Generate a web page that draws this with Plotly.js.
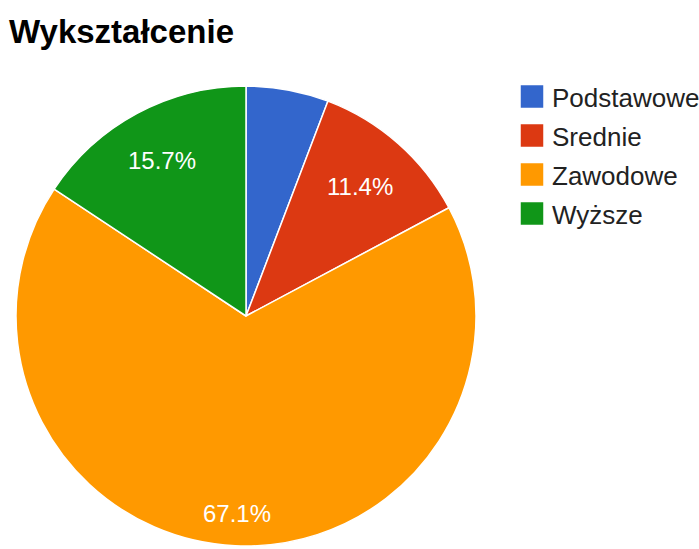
<!DOCTYPE html>
<html>
<head>
<meta charset="utf-8">
<script src="https://cdn.plot.ly/plotly-3.0.1.min.js"></script>
<style>
html,body{margin:0;padding:0;background:#fff;overflow:hidden;}
#chart{width:699px;height:549px;}
</style>
</head>
<body>
<div id="chart"></div>
<script>
const categories = ['Podstawowe', 'Srednie', 'Zawodowe', 'Wyższe'];
const values = [5.8, 11.4, 67.1, 15.7];
const colors = ['#3366cc', '#dc3912', '#ff9900', '#109618'];
const labelMin = 8;                         // slices below this % carry no label
const labelRadius = [0.75, 0.75, 0.86, 0.77]; // radial placement of each label (fraction of radius)

const W = 699, H = 549;
const cx = 246, cy = 316, R = 230;         // pie centre and radius, px

const texts = values.map(v => v >= labelMin ? v.toFixed(1) + '%' : '');

const trace = {
  type: 'pie',
  labels: categories,
  values: values,
  textinfo: 'none',
  sort: false,
  direction: 'clockwise',
  rotation: 0,
  marker: {colors: colors, line: {color: '#ffffff', width: 1.5}},
  domain: {x: [(cx - R)/W, (cx + R)/W], y: [(H - cy - R)/H, (H - cy + R)/H]},
  hoverinfo: 'label+percent'
};

// label annotations placed on each slice's bisector
const total = values.reduce((a, b) => a + b, 0);
const annotations = [];
let cum = 0;
values.forEach((v, i) => {
  const mid = (cum + v / 2) / total * 2 * Math.PI;
  cum += v;
  if (!texts[i]) return;
  const r = R * labelRadius[i];
  annotations.push({
    text: texts[i],
    x: (cx + r * Math.sin(mid)) / W,
    y: (H - (cy - r * Math.cos(mid))) / H,
    xref: 'paper', yref: 'paper',
    xanchor: 'center', yanchor: 'middle',
    showarrow: false,
    font: {family: 'Liberation Sans, Arial, sans-serif', size: 24, color: '#ffffff'}
  });
});

const layout = {
  width: W,
  height: H,
  margin: {l: 0, r: 0, t: 0, b: 0, autoexpand: false},
  paper_bgcolor: '#ffffff',
  title: {
    text: '<b>Wykształcenie</b>',
    x: 9/W, xanchor: 'left', xref: 'paper',
    y: 1 - 31/H, yanchor: 'middle', yref: 'paper',
    font: {family: 'Liberation Sans, Arial, sans-serif', size: 33, color: '#000000'}
  },
  annotations: annotations,
  showlegend: true,
  legend: {
    x: 512/W, xanchor: 'left',
    y: 1 - 73/H, yanchor: 'top',
    font: {family: 'Liberation Sans, Arial, sans-serif', size: 26, color: '#222222'},
    bgcolor: 'rgba(0,0,0,0)',
    traceorder: 'normal'
  }
};

Plotly.newPlot('chart', [trace], layout, {displayModeBar: false, staticPlot: true}).then(gd => {
  gd.querySelectorAll('.legend .legendpoints path').forEach(p => {
    p.setAttribute('d', 'M12,12H-12V-12H12Z');
  });
  const items = gd.querySelectorAll('.legend .traces');
  if (items.length) {
    const m = /translate\(\s*([-\d.]+)[ ,]+([-\d.]+)/.exec(items[0].getAttribute('transform') || '');
    if (m) {
      const x0 = parseFloat(m[1]), y0 = parseFloat(m[2]);
      items.forEach((g, i) => g.setAttribute('transform', 'translate(' + x0 + ',' + (y0 + i * 39) + ')'));
    }
  }
});
</script>
</body>
</html>
